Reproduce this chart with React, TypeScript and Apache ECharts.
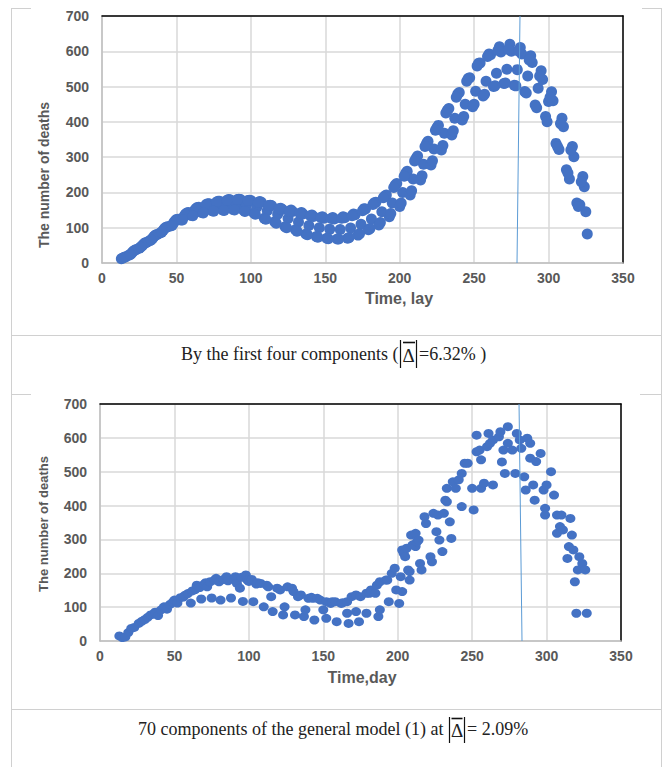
import React, { useEffect, useRef } from "react";
import * as echarts from "echarts";

// ---------- tick labels ----------
const xTicks = [0, 50, 100, 150, 200, 250, 300, 350];
const yTicks = [0, 100, 200, 300, 400, 500, 600, 700];

// ---------- chart A: first four components ----------
const daysA = [
  13, 15, 16, 18, 20, 22, 23, 25, 27, 29, 30, 32, 34, 36, 37, 39, 41, 43, 44, 46,
  48, 50, 51, 53, 55, 57, 58, 60, 62, 64, 65, 67, 69, 71, 72, 74, 76, 78, 79, 81,
  83, 85, 86, 88, 90, 92, 93, 95, 97, 99, 100, 102, 104, 106, 107, 109, 111, 113, 114, 116,
  118, 120, 121, 123, 125, 127, 128, 130, 132, 134, 135, 137, 139, 141, 142, 144, 146, 148, 149, 151,
  153, 155, 156, 158, 160, 162, 163, 165, 167, 169, 170, 172, 174, 176, 177, 179, 181, 183, 184, 186,
  188, 190, 191, 193, 195, 197, 198, 200, 202, 204, 205, 207, 209, 211, 212, 214, 216, 218, 219, 221,
  223, 225, 226, 228, 230, 232, 233, 235, 237, 239, 240, 242, 244, 246, 247, 249, 251, 253, 254, 256,
  258, 260, 261, 263, 265, 267, 268, 270, 272, 274, 275, 277, 279, 281, 282, 284, 286, 288, 289, 291,
  293, 295, 296, 298, 300, 302, 303, 305, 307, 309, 310, 312, 314, 316, 317, 319, 321, 323, 324, 325,
  326,
];
const deathsA = [
  12, 16, 18, 22, 28, 36, 38, 42, 49, 57, 59, 63, 70, 79, 81, 85, 92, 101, 103, 105,
  113, 123, 124, 122, 132, 142, 143, 135, 148, 157, 158, 143, 158, 168, 168, 148, 163, 175, 175, 150,
  165, 180, 179, 152, 166, 181, 180, 150, 163, 178, 177, 142, 158, 174, 172, 127, 148, 164, 162, 117,
  138, 155, 152, 103, 126, 150, 146, 94, 116, 143, 139, 82, 106, 136, 132, 75, 100, 131, 127, 70,
  96, 129, 125, 68, 95, 131, 128, 70, 99, 139, 137, 79, 110, 154, 153, 94, 125, 171, 172, 108,
  145, 190, 193, 131, 170, 221, 225, 160, 200, 254, 260, 193, 238, 297, 303, 235, 280, 339, 345, 278,
  323, 384, 390, 320, 368, 433, 438, 363, 410, 479, 483, 405, 450, 523, 525, 443, 487, 566, 567, 473,
  515, 592, 590, 500, 538, 613, 598, 509, 549, 620, 600, 504, 548, 611, 592, 486, 530, 587, 568, 448,
  495, 545, 520, 415, 458, 485, 460, 339, 322, 410, 386, 264, 238, 330, 301, 170, 165, 245, 216, 145,
  82,
];
// remaining weekdays of chart A (upper and lower bands)
const upperDaysA = [
  14, 21, 28, 35, 42, 49, 56, 63, 70, 77, 84, 91, 98, 105, 112, 119, 126, 133, 140, 147,
  154, 161, 168, 175, 182, 189, 196, 203, 210, 217, 224, 231, 238, 245, 252, 259, 266, 273, 280, 287,
  294, 301, 308, 315, 322,
];
const upperDeathsA = [
  14, 33, 54, 76, 98, 119, 138, 154, 166, 173, 178, 180, 177, 172, 163, 154, 147, 141, 134, 129,
  126, 127, 134, 148, 166, 185, 214, 246, 289, 330, 376, 425, 470, 515, 558, 585, 603, 605, 600, 575,
  530, 470, 395, 320, 230,
];
const lowerDaysA = [
  19, 26, 33, 40, 47, 54, 61, 68, 75, 82, 89, 96, 103, 110, 117, 124, 131, 138, 145, 152,
  159, 166, 173, 180, 187, 194, 201, 208, 215, 222, 229, 236, 243, 250, 257, 264, 271, 278, 285, 292,
  299, 306, 313, 320,
];
const lowerDeathsA = [
  24, 45, 65, 87, 106, 122, 134, 142, 147, 149, 150, 146, 138, 124, 113, 100, 90, 80, 73, 69,
  68, 72, 83, 98, 115, 140, 170, 205, 247, 290, 333, 375, 415, 450, 478, 502, 510, 502, 482, 440,
  400, 330, 255, 160,
];
const guideA = [[280.8, 700], [278.8, 0]];

// ---------- chart B: 70 components ----------
const daysB = [
  13, 15, 17, 19, 21, 23, 26, 28, 30, 32, 34, 36, 37, 39, 41, 43, 45, 47, 49, 50,
  52, 54, 56, 57, 59, 61, 62, 64, 65, 67, 68, 70, 71, 72, 74, 75, 77, 78, 80, 81,
  83, 85, 86, 88, 90, 91, 92, 94, 95, 96, 98, 99, 100, 102, 103, 105, 106, 108, 110, 112,
  113, 115, 116, 119, 121, 123, 124, 126, 129, 130, 131, 133, 135, 137, 138, 140, 142, 143, 144, 146,
  148, 150, 152, 152, 155, 156, 158, 159, 162, 163, 166, 166, 167, 169, 172, 172, 174, 175, 179, 179,
  181, 182, 185, 186, 187, 188, 188, 192, 193, 194, 196, 198, 199, 201, 202, 203, 203, 204, 205, 206,
  207, 208, 208, 209, 210, 212, 212, 213, 214, 215, 216, 218, 219, 222, 223, 224, 226, 227, 228, 230,
  231, 232, 233, 233, 235, 236, 237, 239, 241, 243, 243, 245, 247, 250, 251, 253, 253, 255, 256, 256,
  258, 260, 261, 262, 264, 264, 268, 269, 270, 271, 272, 274, 274, 277, 279, 280, 282, 283, 285, 286,
  287, 289, 289, 291, 292, 293, 296, 298, 299, 299, 300, 303, 305, 307, 307, 309, 310, 311, 314, 315,
  316, 317, 318, 319, 320, 321, 322, 324, 326, 327,
];
const deathsB = [
  15, 10, 12, 25, 37, 40, 52, 58, 63, 70, 77, 80, 85, 75, 92, 101, 94, 108, 115, 121,
  112, 128, 130, 135, 140, 112, 148, 152, 165, 158, 124, 168, 172, 160, 175, 127, 180, 185, 175, 121,
  182, 190, 178, 127, 183, 190, 170, 156, 188, 117, 195, 180, 176, 182, 116, 168, 172, 170, 101, 165,
  160, 131, 87, 156, 151, 77, 101, 160, 156, 146, 77, 131, 136, 72, 92, 126, 129, 126, 62, 126,
  121, 92, 67, 116, 111, 116, 116, 57, 111, 113, 82, 116, 52, 131, 87, 136, 57, 131, 82, 141,
  141, 151, 141, 165, 72, 92, 175, 180, 180, 116, 200, 215, 151, 111, 190, 146, 269, 259, 249, 274,
  210, 180, 205, 313, 284, 279, 318, 293, 298, 229, 210, 367, 347, 249, 234, 377, 323, 372, 298, 264,
  377, 416, 411, 451, 352, 303, 470, 451, 476, 397, 495, 525, 525, 451, 387, 559, 608, 564, 535, 451,
  466, 574, 613, 584, 461, 594, 603, 618, 529, 564, 495, 633, 584, 564, 495, 613, 594, 569, 485, 446,
  599, 584, 540, 461, 416, 530, 554, 446, 392, 372, 461, 500, 431, 372, 318, 338, 372, 328, 244, 279,
  362, 313, 269, 175, 82, 210, 249, 229, 210, 82,
];
const guideB = [[281.5, 700], [283.5, 0]];

// ---------- texts ----------
const yTitle = "The number of deaths";
const xTitleA = "Time, lay";
const xTitleB = "Time,day";
const captionA = "By the first four components (";
const captionAValue = "=6.32% )";
const captionB = "70 components of the general model (1) at";
const captionBValue = "= 2.09%";

const SANS = '"Liberation Sans", Arial, sans-serif';
const SERIF = '"Liberation Serif", "Times New Roman", serif';
const BORDER = "#d0d0d0";
const DOT = "#4472c4";

function axesFor(grid: number) {
  const xMin = xTicks[0];
  const xMax = xTicks[xTicks.length - 1];
  const yMin = yTicks[0];
  const yMax = yTicks[yTicks.length - 1];
  const label = {
    color: "#595959",
    fontWeight: "bold",
    fontSize: 14,
    fontFamily: SANS,
  };
  const x = [
    {
      type: "value",
      gridIndex: grid,
      min: xMin,
      max: xMax,
      interval: xTicks[1] - xTicks[0],
      axisLine: { show: true, onZero: false, lineStyle: { color: "#bfbfbf", width: 1.5 } },
      axisTick: { show: false },
      axisLabel: { ...label, margin: 8 },
      splitLine: { show: true, lineStyle: { color: "#d9d9d9", width: 1.5 } },
    },
    {
      type: "value",
      gridIndex: grid,
      position: "top",
      min: xMin,
      max: xMax,
      interval: xTicks[1] - xTicks[0],
      axisLine: { show: true, onZero: false, lineStyle: { color: "#000", width: 1.5 } },
      axisTick: { show: false },
      axisLabel: { show: false },
      splitLine: { show: false },
    },
  ];
  const y = [
    {
      type: "value",
      gridIndex: grid,
      min: yMin,
      max: yMax,
      interval: yTicks[1] - yTicks[0],
      axisLine: { show: true, onZero: false, lineStyle: { color: "#bfbfbf", width: 1.5 } },
      axisTick: { show: false },
      axisLabel: { ...label, margin: 13 },
      splitLine: { show: true, lineStyle: { color: "#d9d9d9", width: 1.5 } },
    },
    {
      type: "value",
      gridIndex: grid,
      position: "right",
      min: yMin,
      max: yMax,
      interval: yTicks[1] - yTicks[0],
      axisLine: { show: true, onZero: false, lineStyle: { color: "#000", width: 1.5 } },
      axisTick: { show: false },
      axisLabel: { show: false },
      splitLine: { show: false },
    },
  ];
  return { x, y };
}

function hLine(x1: number, x2: number, y: number) {
  return { type: "line", silent: true, shape: { x1, y1: y, x2, y2: y }, style: { stroke: BORDER, lineWidth: 1 } };
}
function blackLine(x1: number, y1: number, x2: number, y2: number, w = 1.2) {
  return { type: "line", silent: true, shape: { x1, y1, x2, y2 }, style: { stroke: "#111", lineWidth: w } };
}
function txt(x: number, y: number, text: string, opts: any = {}) {
  return {
    type: "text",
    silent: true,
    x,
    y,
    rotation: opts.rotation || 0,
    style: {
      text,
      fill: opts.fill || "#222",
      fontSize: opts.fontSize || 18,
      fontWeight: opts.fontWeight || "normal",
      fontFamily: opts.fontFamily || SERIF,
      align: opts.align || "left",
      verticalAlign: "middle",
    },
  };
}

const pairs = (xs: number[], ys: number[]) => xs.map((d, i) => [d, ys[i]]);

export default function App() {
  const ref = useRef<HTMLDivElement>(null);

  useEffect(() => {
    if (!ref.current) return;
    const chart = echarts.init(ref.current, undefined, { renderer: "svg" });
    const a = axesFor(0);
    const b = axesFor(1);
    const dataA = [
      ...pairs(daysA, deathsA),
      ...pairs(upperDaysA, upperDeathsA),
      ...pairs(lowerDaysA, lowerDeathsA),
    ];

    const option: any = {
      animation: false,
      backgroundColor: "#ffffff",
      grid: [
        { left: 102, top: 16, width: 521, height: 247 },
        { left: 100, top: 404, width: 521, height: 237 },
      ],
      xAxis: [...a.x, ...b.x],
      yAxis: [...a.y, ...b.y],
      series: [
        {
          type: "scatter",
          xAxisIndex: 0,
          yAxisIndex: 0,
          data: dataA,
          symbolSize: 11,
          itemStyle: { color: DOT, opacity: 1 },
          z: 3,
        },
        {
          type: "line",
          xAxisIndex: 0,
          yAxisIndex: 0,
          data: guideA,
          symbol: "none",
          lineStyle: { color: "#5b9bd5", width: 1 },
          z: 4,
        },
        {
          type: "scatter",
          xAxisIndex: 2,
          yAxisIndex: 2,
          data: pairs(daysB, deathsB),
          symbolSize: [10, 9],
          itemStyle: { color: DOT, opacity: 1 },
          z: 3,
        },
        {
          type: "line",
          xAxisIndex: 2,
          yAxisIndex: 2,
          data: guideB,
          symbol: "none",
          lineStyle: { color: "#5b9bd5", width: 1 },
          z: 4,
        },
      ],
      graphic: [
        // table borders
        { type: "line", silent: true, shape: { x1: 11.5, y1: 8, x2: 11.5, y2: 767 }, style: { stroke: BORDER, lineWidth: 1 } },
        { type: "line", silent: true, shape: { x1: 661.5, y1: 8, x2: 661.5, y2: 767 }, style: { stroke: BORDER, lineWidth: 1 } },
        hLine(11.5, 31, 8.5),
        hLine(642, 661.5, 8.5),
        hLine(11.5, 661.5, 335.5),
        hLine(11.5, 31, 394.5),
        hLine(640, 661.5, 394.5),
        hLine(11.5, 661.5, 709.5),
        // axis titles
        txt(44, 175, yTitle, { rotation: Math.PI / 2, align: "center", fontSize: 14, fontWeight: "bold", fontFamily: SANS, fill: "#595959" }),
        txt(399, 298, xTitleA, { align: "center", fontSize: 16, fontWeight: "bold", fontFamily: SANS, fill: "#595959" }),
        txt(43, 524, yTitle, { rotation: Math.PI / 2, align: "center", fontSize: 13, fontWeight: "bold", fontFamily: SANS, fill: "#595959" }),
        txt(362, 677, xTitleB, { align: "center", fontSize: 16, fontWeight: "bold", fontFamily: SANS, fill: "#595959" }),
        // caption A
        txt(181, 354, captionA),
        blackLine(400.5, 340, 400.5, 368),
        blackLine(416.5, 340, 416.5, 368),
        blackLine(403, 342.5, 415, 342.5, 1.6),
        txt(408.5, 355, "Δ", { align: "center", fontSize: 19 }),
        txt(419, 354, captionAValue),
        // caption B
        txt(138, 729, captionB),
        blackLine(449.5, 717, 449.5, 743),
        blackLine(464.5, 717, 464.5, 743),
        blackLine(451.5, 718.5, 462.5, 718.5, 1.6),
        txt(457, 730, "Δ", { align: "center", fontSize: 19 }),
        txt(467, 729, captionBValue),
      ],
    };
    chart.setOption(option);
    return () => chart.dispose();
  }, []);

  return (
    <div
      ref={ref}
      style={{ position: "absolute", left: 0, top: 0, width: 668, height: 767, background: "#fff" }}
    />
  );
}
